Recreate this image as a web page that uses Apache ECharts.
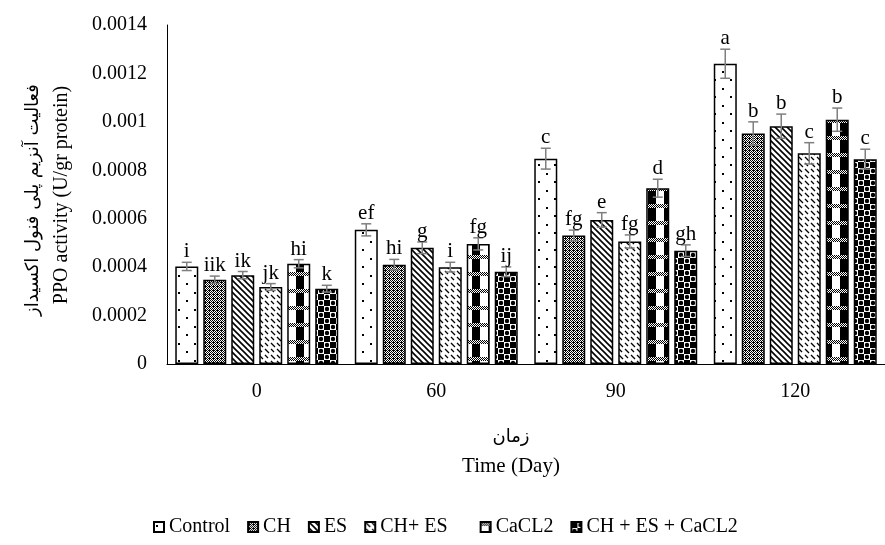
<!DOCTYPE html>
<html>
<head>
<meta charset="utf-8">
<script src="https://cdn.jsdelivr.net/npm/echarts@6/dist/echarts.min.js"></script>
<style>
  html, body { margin: 0; padding: 0; background: #fff; }
  #chart { width: 885px; height: 545px; }
</style>
</head>
<body>
<div id="chart"></div>
<script>
// data
const days = ['0', '60', '90', '120']
const treatments = ['Control', 'CH', 'ES', 'CH+ ES', 'CaCL2', 'CH + ES + CaCL2']
const control = [0.000403, 0.000554, 0.000848, 0.00124]
const ch = [0.000348, 0.00041, 0.000531, 0.000952]
const es = [0.000367, 0.00048, 0.000595, 0.000982]
const chEs = [0.000318, 0.0004, 0.000506, 0.00087]
const cacl2 = [0.000414, 0.000496, 0.000726, 0.001009]
const chEsCacl2 = [0.000311, 0.000381, 0.000468, 0.000846]
const errControl = [0.000017, 0.000025, 0.000043, 0.00006]
const errCh = [0.000015, 0.000022, 0.000022, 0.000048]
const errEs = [0.000015, 0.000024, 0.00003, 0.00005]
const errChEs = [0.000014, 0.00002, 0.000027, 0.000044]
const errCacl2 = [0.000017, 0.000025, 0.000037, 0.000048]
const errChEsCacl2 = [0.000014, 0.00002, 0.000024, 0.000041]
const lettersControl = ['i', 'ef', 'c', 'a']
const lettersCh = ['iik', 'hi', 'fg', 'b']
const lettersEs = ['ik', 'g', 'e', 'b']
const lettersChEs = ['jk', 'i', 'fg', 'c']
const lettersCacl2 = ['hi', 'fg', 'd', 'b']
const lettersChEsCacl2 = ['k', 'ij', 'gh', 'c']

const values = [control, ch, es, chEs, cacl2, chEsCacl2]
const errors = [errControl, errCh, errEs, errChEs, errCacl2, errChEsCacl2]
const letters = [lettersControl, lettersCh, lettersEs, lettersChEs, lettersCacl2, lettersChEsCacl2]

const FONT = '"Liberation Serif", "Times New Roman", serif'
const BAR_W = 23
const BAR_STEP = 28

// fill patterns close to the Excel ones
function makeTile(w, h, draw) {
  const c = document.createElement('canvas')
  c.width = w
  c.height = h
  const ctx = c.getContext('2d')
  ctx.fillStyle = '#fff'
  ctx.fillRect(0, 0, w, h)
  ctx.fillStyle = '#000'
  draw(ctx)
  return { image: c, repeat: 'repeat' }
}

const patterns = [
  // dotted
  makeTile(16, 17, ctx => {
    ctx.fillRect(2, 3, 2, 2)
    ctx.fillRect(10, 11, 2, 2)
  }),
  // dense check (dark grey look)
  makeTile(4, 4, ctx => {
    for (let x = 0; x < 4; x++) {
      for (let y = 0; y < 4; y++) {
        if ((x + y) % 2 === 0 || (x === 1 && y === 2)) ctx.fillRect(x, y, 1, 1)
      }
    }
  }),
  // wide downward diagonal
  makeTile(6, 6, ctx => {
    ctx.strokeStyle = '#000'
    ctx.lineWidth = 1.6
    ctx.beginPath()
    ctx.moveTo(-1, -1); ctx.lineTo(7, 7)
    ctx.moveTo(-4, 2); ctx.lineTo(2, 8)
    ctx.moveTo(2, -4); ctx.lineTo(8, 2)
    ctx.stroke()
  }),
  // dashed downward diagonal
  makeTile(12, 12, ctx => {
    ctx.strokeStyle = '#000'
    ctx.lineWidth = 1.3
    ctx.beginPath()
    ctx.moveTo(1, 1); ctx.lineTo(5, 5)
    ctx.moveTo(7, 7); ctx.lineTo(11, 11)
    ctx.moveTo(7, 1); ctx.lineTo(10, 4)
    ctx.moveTo(1, 7); ctx.lineTo(4, 10)
    ctx.stroke()
  }),
  // large checker with dense bands
  makeTile(16, 17, ctx => {
    ctx.fillRect(8, 4, 8, 13)
    for (let x = 0; x < 16; x++) {
      for (let y = 0; y < 4; y++) {
        if ((x + y) % 2 === 0) ctx.fillRect(x, y, 1, 1)
      }
    }
  }),
  // checker with round blobs
  makeTile(12, 12, ctx => {
    ctx.fillRect(0, 0, 6, 6)
    ctx.fillRect(6, 6, 6, 6)
    ctx.beginPath()
    ctx.arc(9, 3, 2.2, 0, Math.PI * 2)
    ctx.arc(3, 9, 2.2, 0, Math.PI * 2)
    ctx.fill()
  })
]

const chart = echarts.init(document.getElementById('chart'), null, { renderer: 'canvas' })

const barSeries = treatments.map((name, i) => ({
  name: name,
  type: 'bar',
  barWidth: BAR_W,
  barGap: '21.7%',
  data: values[i],
  itemStyle: {
    color: patterns[i],
    borderColor: '#000',
    borderWidth: 1.5
  },
  emphasis: { disabled: true },
  z: 2
}))

const errSeries = treatments.map((name, i) => ({
  name: 'err_' + name,
  type: 'custom',
  data: values[i].map((v, k) => [k, v, errors[i][k]]),
  z: 5,
  silent: true,
  renderItem: function(params, api) {
    const k = api.value(0)
    const v = api.value(1)
    const e = api.value(2)
    const off = (i - 2.5) * BAR_STEP
    const top = api.coord([k, v + e])
    const bot = api.coord([k, v - e])
    const x = top[0] + off
    const st = { stroke: '#7f7f7f', lineWidth: 1.5 }
    return {
      type: 'group',
      children: [
        { type: 'line', shape: { x1: x, y1: top[1], x2: x, y2: bot[1] }, style: st },
        { type: 'line', shape: { x1: x - 5, y1: top[1], x2: x + 5, y2: top[1] }, style: st },
        { type: 'line', shape: { x1: x - 5, y1: bot[1], x2: x + 5, y2: bot[1] }, style: st },
        {
          type: 'text',
          x: x,
          y: top[1],
          style: {
            text: letters[i][k],
            fill: '#000',
            font: '21px ' + FONT,
            align: 'center',
            verticalAlign: 'bottom'
          }
        }
      ]
    }
  }
}))

chart.setOption({
  animation: false,
  backgroundColor: '#fff',
  grid: {
    left: 167,
    right: -15,
    top: 25,
    bottom: 181
  },
  legend: {
    data: treatments,
    left: 148,
    top: 512,
    itemWidth: 10,
    itemHeight: 10,
    itemGap: 17,
    icon: 'rect',
    formatter: function(name) {
      return name === 'CH+ ES' ? name + '   ' : name
    },
    textStyle: { fontFamily: FONT, fontSize: 20, color: '#000' },
    selectedMode: false
  },
  xAxis: {
    type: 'category',
    data: days,
    axisLine: { lineStyle: { color: '#000', width: 1 } },
    axisTick: { show: false },
    axisLabel: { fontFamily: FONT, fontSize: 20, color: '#000', margin: 18 }
  },
  yAxis: {
    type: 'value',
    min: 0,
    max: 0.0014,
    interval: 0.0002,
    splitLine: { show: false },
    axisLine: { show: true, lineStyle: { color: '#000', width: 1 } },
    axisTick: { show: false },
    axisLabel: { fontFamily: FONT, fontSize: 20, color: '#000', margin: 20 }
  },
  graphic: [
    {
      type: 'text',
      x: 62,
      y: 195,
      rotation: Math.PI / 2,
      style: {
        text: 'PPO activity (U/gr protein)',
        font: '20px ' + FONT,
        fill: '#000',
        align: 'center',
        verticalAlign: 'middle'
      }
    },
    {
      type: 'text',
      x: 33,
      y: 200,
      rotation: Math.PI / 2,
      style: {
        text: 'فعالیت آنزیم پلی فنول اکسیداز',
        font: '18px "DejaVu Sans", sans-serif',
        fill: '#000',
        align: 'center',
        verticalAlign: 'middle'
      }
    },
    {
      type: 'text',
      x: 511,
      y: 437,
      style: {
        text: 'زمان',
        font: '18px "DejaVu Sans", sans-serif',
        fill: '#000',
        align: 'center',
        verticalAlign: 'middle'
      }
    },
    {
      type: 'text',
      x: 511,
      y: 466,
      style: {
        text: 'Time (Day)',
        font: '21px ' + FONT,
        fill: '#000',
        align: 'center',
        verticalAlign: 'middle'
      }
    }
  ],
  series: barSeries.concat(errSeries)
})
</script>
</body>
</html>
